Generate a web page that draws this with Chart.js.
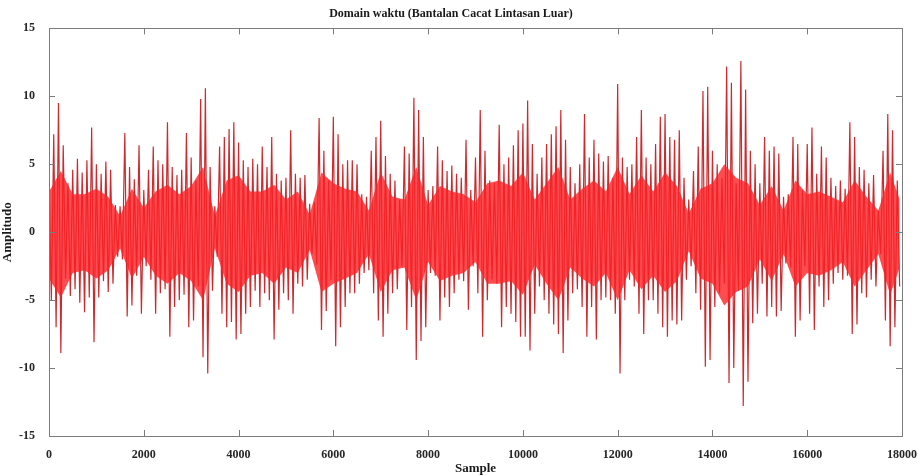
<!DOCTYPE html>
<html>
<head>
<meta charset="utf-8">
<script src="https://cdn.jsdelivr.net/npm/chart.js@4.4.0/dist/chart.umd.min.js"></script>
<style>
  html, body { margin: 0; padding: 0; background: #ffffff; }
  #wrap { width: 921px; height: 476px; }
</style>
</head>
<body>
<div id="wrap"><canvas id="signalChart" width="921" height="476"></canvas></div>
<script>
// Envelope of the vibration signal, every 100 samples
var sampleStep = 100;

var upperPeaks = [
  3.8, 7.2, 9.5, 6.4, 3.6, 4.6, 5.4, 4.4, 5.3, 7.7,
  5.0, 4.3, 5.2, 4.6, 2.0, 1.9, 7.3, 4.8, 3.9, 6.4,
  3.1, 4.6, 6.3, 5.3, 5.0, 8.1, 4.8, 4.2, 4.6, 7.3,
  5.5, 3.8, 9.8, 10.6, 4.8, 1.9, 6.3, 7.0, 7.6, 8.1,
  6.6, 5.3, 4.8, 5.4, 5.0, 6.3, 4.8, 7.0, 4.3, 3.8,
  4.0, 7.5, 4.3, 4.0, 4.2, 2.1, 2.2, 8.4, 6.0, 3.8,
  8.5, 7.2, 5.0, 5.3, 5.3, 5.0, 2.8, 2.6, 6.0, 7.0,
  8.2, 5.6, 4.3, 3.8, 2.4, 6.3, 5.8, 9.9, 9.0, 7.0,
  3.1, 3.4, 6.3, 5.3, 4.5, 4.9, 4.3, 4.0, 6.8, 3.1,
  5.5, 9.0, 6.0, 3.8, 3.6, 7.9, 5.0, 5.5, 6.4, 7.5,
  8.0, 9.7, 6.5, 4.3, 5.5, 6.5, 7.2, 7.8, 9.0, 6.8,
  4.8, 3.6, 5.0, 8.7, 5.5, 6.8, 5.8, 5.2, 5.6, 4.0,
  10.9, 5.5, 4.8, 5.0, 7.0, 9.0, 5.5, 5.0, 6.5, 8.5,
  8.7, 7.0, 6.8, 7.5, 4.0, 2.4, 4.5, 6.3, 10.4, 10.7,
  6.0, 5.0, 4.0, 12.2, 11.0, 3.6, 12.6, 10.5, 6.0, 5.0,
  3.6, 7.0, 6.0, 6.3, 5.8, 2.6, 2.8, 7.0, 6.5, 3.1,
  6.5, 7.7, 4.3, 6.3, 5.5, 4.0, 3.4, 3.8, 3.2, 8.1,
  7.0, 4.8, 4.6, 3.6, 4.2, 1.6, 6.0, 8.7, 7.5, 3.8
];

var lowerPeaks = [
  -5.0, -7.0, -8.9, -3.4, -4.7, -4.2, -5.2, -5.9, -4.8, -8.1,
  -4.8, -3.6, -4.4, -3.8, -1.8, -2.0, -6.2, -5.4, -3.2, -6.0,
  -2.5, -3.5, -6.0, -4.5, -4.2, -7.7, -5.5, -5.0, -4.6, -7.0,
  -6.5, -4.0, -9.2, -10.4, -4.3, -1.8, -6.0, -7.0, -6.6, -7.9,
  -7.5, -6.0, -5.5, -4.3, -5.5, -4.5, -5.0, -7.9, -5.7, -4.5,
  -5.0, -6.0, -3.8, -4.0, -3.5, -1.6, -2.4, -7.2, -5.8, -3.5,
  -8.4, -7.0, -5.5, -4.5, -4.5, -3.8, -3.0, -2.8, -4.5, -6.5,
  -7.7, -6.0, -4.5, -4.2, -2.5, -7.2, -5.5, -9.4, -8.0, -7.0,
  -3.0, -3.2, -6.5, -4.8, -5.5, -4.5, -3.5, -3.6, -5.7, -2.5,
  -4.5, -7.7, -5.0, -3.5, -3.8, -7.0, -5.5, -6.0, -6.6, -7.7,
  -7.7, -8.7, -6.0, -4.0, -5.0, -6.0, -6.8, -7.5, -8.9, -6.5,
  -4.5, -4.2, -5.5, -7.7, -5.5, -7.9, -5.0, -4.8, -5.0, -6.0,
  -10.4, -5.0, -3.5, -4.0, -6.0, -7.5, -5.0, -5.0, -6.0, -7.0,
  -7.7, -6.5, -6.8, -6.5, -3.5, -2.5, -4.5, -5.7, -9.9, -9.4,
  -5.5, -4.5, -3.8, -11.1, -10.0, -4.3, -12.8, -11.0, -6.7, -6.0,
  -3.8, -6.2, -5.5, -6.2, -5.8, -2.3, -2.6, -7.7, -6.5, -2.5,
  -6.0, -7.2, -4.0, -5.5, -5.0, -3.8, -3.0, -3.5, -3.2, -7.5,
  -6.8, -4.5, -4.8, -3.5, -4.0, -1.6, -6.5, -8.4, -7.0, -4.0
];

// solid core of the trace (lines too dense to separate), every 250 samples
var coreStep = 250;
var coreUpper = [
  3.0, 4.5, 2.8, 2.8, 3.2, 2.6, 1.2, 3.2, 1.8, 3.0, 3.5, 2.8, 3.4, 4.8, 1.2, 3.8,
  4.2, 3.0, 3.0, 3.5, 2.4, 3.0, 1.3, 4.4, 3.6, 3.2, 3.0, 1.6, 4.4, 2.6, 2.4, 4.8,
  2.0, 3.4, 3.0, 2.8, 2.2, 3.6, 3.8, 3.4, 4.4, 2.4, 3.6, 4.8, 2.4, 3.2, 3.8, 3.0,
  4.8, 2.8, 4.2, 3.0, 4.4, 3.4, 1.4, 3.2, 3.6, 5.0, 4.0, 3.6, 2.0, 3.4, 1.6, 3.8,
  2.8, 3.0, 2.6, 2.2, 3.8, 2.6, 1.6, 4.4, 2.4
];
var coreLower = [
  -3.4, -4.8, -3.0, -2.8, -3.4, -2.8, -1.2, -3.4, -1.8, -3.2, -3.8, -3.0, -3.6, -5.0, -1.2, -3.8,
  -4.4, -3.2, -3.0, -3.8, -2.6, -3.0, -1.3, -4.4, -3.8, -3.4, -3.0, -1.6, -4.4, -2.8, -2.6, -5.0,
  -2.2, -3.6, -3.2, -3.0, -2.2, -3.8, -3.8, -3.6, -4.6, -2.4, -3.8, -5.0, -2.6, -3.4, -4.0, -3.0,
  -5.0, -2.8, -4.2, -3.2, -4.4, -3.6, -1.4, -3.4, -3.8, -5.4, -4.4, -4.0, -2.0, -3.6, -1.6, -4.0,
  -3.0, -3.2, -2.8, -2.2, -4.0, -2.8, -1.6, -4.6, -2.6
];

var xTicks = [0, 2000, 4000, 6000, 8000, 10000, 12000, 14000, 16000, 18000];
var yTicks = [-15, -10, -5, 0, 5, 10, 15];

// zigzag: upper peak then lower peak half a step later
var points = [];
for (var i = 0; i < upperPeaks.length; i++) {
  points.push({ x: i * sampleStep, y: upperPeaks[i] });
  points.push({ x: i * sampleStep + sampleStep / 2, y: lowerPeaks[i] });
}
var coreTop = [], coreBottom = [];
for (var k = 0; k < coreUpper.length; k++) {
  coreTop.push({ x: Math.min(k * coreStep, 17950), y: coreUpper[k] });
  coreBottom.push({ x: Math.min(k * coreStep, 17950), y: coreLower[k] });
}

var serif = "'Liberation Serif', 'Times New Roman', serif";
var axisGrey = '#7c7c7c';

// box round the plot and inward ticks on all four sides
var boxTicks = {
  id: 'boxTicks',
  afterDraw: function(chart) {
    var ctx = chart.ctx;
    var a = chart.chartArea;
    var xs = chart.scales.x;
    var ys = chart.scales.y;
    ctx.save();
    ctx.strokeStyle = axisGrey;
    ctx.lineWidth = 1;
    ctx.strokeRect(Math.round(a.left) + 0.5, Math.round(a.top) + 0.5,
      Math.round(a.right - a.left), Math.round(a.bottom - a.top));
    ctx.beginPath();
    for (var i = 0; i < xTicks.length; i++) {
      var px = Math.round(xs.getPixelForValue(xTicks[i])) + 0.5;
      ctx.moveTo(px, a.bottom); ctx.lineTo(px, a.bottom - 6);
      ctx.moveTo(px, a.top); ctx.lineTo(px, a.top + 6);
    }
    for (var j = 0; j < yTicks.length; j++) {
      var py = Math.round(ys.getPixelForValue(yTicks[j])) + 0.5;
      ctx.moveTo(a.left, py); ctx.lineTo(a.left + 6, py);
      ctx.moveTo(a.right, py); ctx.lineTo(a.right - 6, py);
    }
    ctx.stroke();
    ctx.restore();
  }
};

new Chart(document.getElementById('signalChart').getContext('2d'), {
  type: 'line',
  data: {
    datasets: [{
      label: 'Amplitudo',
      data: points,
      borderColor: 'rgb(205,42,46)',
      borderWidth: 1.2,
      pointRadius: 0,
      tension: 0,
      fill: false,
      order: 1
    }, {
      label: 'core top',
      data: coreTop,
      borderColor: 'rgba(0,0,0,0)',
      backgroundColor: 'rgba(252,32,38,0.8)',
      borderWidth: 0,
      pointRadius: 0,
      tension: 0,
      fill: '+1',
      order: 0
    }, {
      label: 'core bottom',
      data: coreBottom,
      borderColor: 'rgba(0,0,0,0)',
      borderWidth: 0,
      pointRadius: 0,
      tension: 0,
      fill: false,
      order: 0
    }]
  },
  options: {
    responsive: false,
    animation: false,
    events: [],
    layout: { padding: { left: 0, right: 19, top: 0, bottom: 0 } },
    plugins: {
      legend: { display: false },
      tooltip: { enabled: false },
      title: {
        display: true,
        text: 'Domain waktu (Bantalan Cacat Lintasan Luar)',
        color: '#1a1a1a',
        font: { family: serif, size: 12, weight: 'bold' },
        padding: { top: 7, bottom: 7 }
      }
    },
    scales: {
      x: {
        type: 'linear',
        min: 0,
        max: 18000,
        grid: { display: false },
        border: { display: false },
        afterFit: function(scale) { scale.height = 40; },
        ticks: {
          stepSize: 2000,
          padding: 4,
          maxRotation: 0,
          color: '#262626',
          font: { family: serif, size: 12, weight: 'bold' },
          callback: function(v) { return String(v); }
        },
        title: {
          display: true,
          text: 'Sample',
          color: '#1a1a1a',
          font: { family: serif, size: 13, weight: 'bold' },
          padding: { top: 0, bottom: 0 }
        }
      },
      y: {
        min: -15,
        max: 15,
        grid: { display: false },
        border: { display: false },
        afterFit: function(scale) { scale.width = 49; },
        ticks: {
          stepSize: 5,
          padding: 6,
          color: '#262626',
          font: { family: serif, size: 12, weight: 'bold' }
        },
        title: {
          display: true,
          text: 'Amplitudo',
          color: '#1a1a1a',
          font: { family: serif, size: 13, weight: 'bold' },
          padding: { top: 0, bottom: 4 }
        }
      }
    }
  },
  plugins: [boxTicks]
});
</script>
</body>
</html>
